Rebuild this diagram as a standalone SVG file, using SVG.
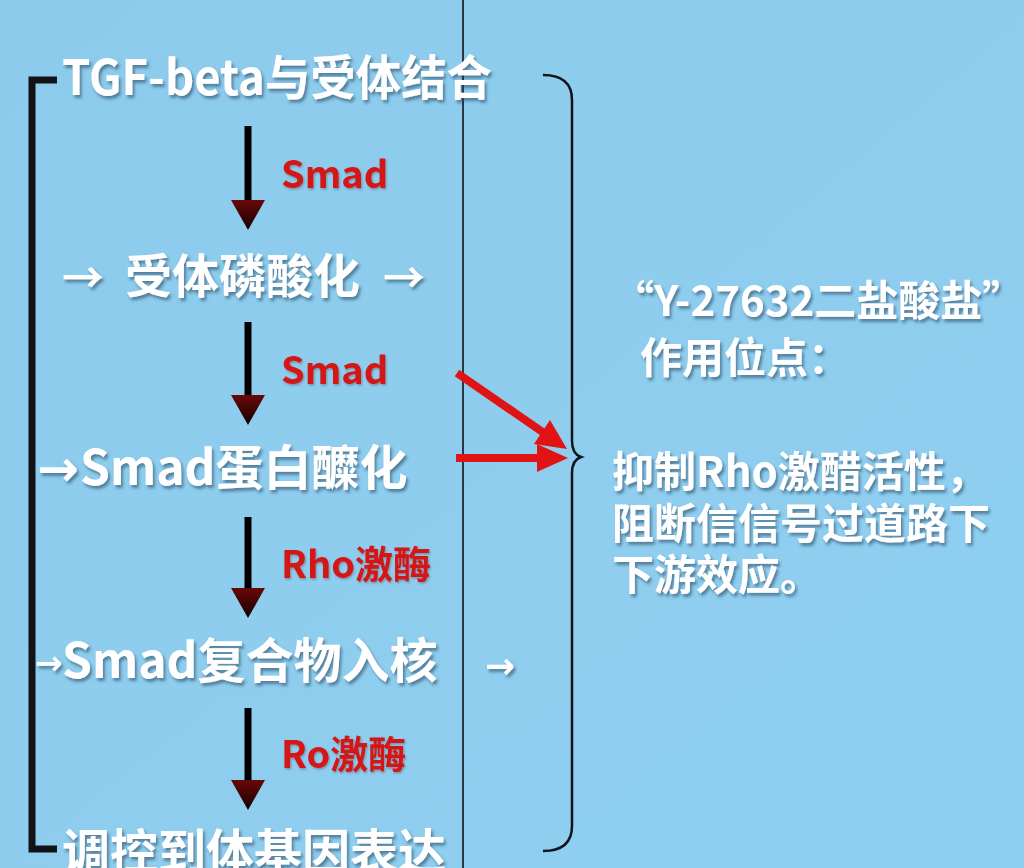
<svg xmlns="http://www.w3.org/2000/svg" width="1024" height="868" viewBox="0 0 1024 868">
<defs>
<linearGradient id="bg" x1="0" y1="0" x2="1" y2="1">
<stop offset="0" stop-color="#8ccbec"/>
<stop offset="0.5" stop-color="#8fcdee"/>
<stop offset="1" stop-color="#8ecff1"/>
</linearGradient>
<linearGradient id="head" x1="0" y1="0" x2="0" y2="1">
<stop offset="0" stop-color="#6a0808"/>
<stop offset="1" stop-color="#140000"/>
</linearGradient>
<filter id="sh" x="-5%" y="-20%" width="110%" height="150%">
<feDropShadow dx="2" dy="3" stdDeviation="1.5" flood-color="#23405a" flood-opacity="0.55"/>
</filter>
<filter id="shr" x="-5%" y="-20%" width="110%" height="150%">
<feDropShadow dx="1" dy="1.5" stdDeviation="1" flood-color="#400000" flood-opacity="0.3"/>
</filter>
</defs>
<style>
.w{fill:#ffffff;font-family:"Noto Sans CJK SC","Noto Sans",sans-serif;font-weight:700;filter:url(#sh)}
.a{font-family:"DejaVu Sans",sans-serif;font-weight:700}
.r{fill:#d41616;font-family:"Noto Sans CJK SC","Noto Sans",sans-serif;font-weight:600;font-size:38px;filter:url(#shr)}
.dk{fill:none;stroke:#101418}
.ar{fill:#e01414}
</style>
<rect width="1024" height="868" fill="url(#bg)"/>

<g id="frame">
<line x1="463" y1="0" x2="463" y2="868" class="dk" stroke-width="1.6"/>
<path d="M57,80 H32 V849 H57" class="dk" stroke-width="7"/>
<path d="M543,75 Q572,75 572,100 V441 Q572,454 581,457 Q572,460 572,473 V826 Q572,851 543,851" class="dk" stroke-width="2.5"/>
</g>

<g id="connectors">
<g id="down1"><rect x="244.5" y="126" width="7" height="78"/><polygon points="231,200 265,200 248,230" fill="url(#head)"/></g>
<g id="down2"><rect x="244.5" y="322" width="7" height="77"/><polygon points="231,395 265,395 248,425" fill="url(#head)"/></g>
<g id="down3"><rect x="244.5" y="517" width="7" height="75"/><polygon points="231,588 265,588 248,618" fill="url(#head)"/></g>
<g id="down4"><rect x="244.5" y="708" width="7" height="76"/><polygon points="231,780 265,780 248,810" fill="url(#head)"/></g>
<g id="red-diag"><line x1="457" y1="373" x2="544" y2="433" stroke="#e01414" stroke-width="8"/><polygon class="ar" points="567,449 534,444 550,420"/></g>
<g id="red-horiz"><line x1="456" y1="458" x2="540" y2="458" stroke="#e01414" stroke-width="8"/><polygon class="ar" points="568,458 537,444 537,472"/></g>
</g>

<g id="labels">
<text class="r" x="281" y="188">Smad</text>
<text class="r" x="281" y="384">Smad</text>
<text class="r" x="281" y="578">Rho激酶</text>
<text class="r" x="281" y="768">Ro激酶</text>
</g>

<g id="n1"><text class="w" x="62" y="95" font-size="48" textLength="430" lengthAdjust="spacingAndGlyphs">TGF-beta与受体结合</text></g>
<g id="n2">
<text class="w" x="62" y="293" font-size="42">→</text>
<text class="w" x="125" y="293" font-size="47">受体磷酸化</text>
<text class="w" x="383" y="293" font-size="42">→</text>
</g>
<g id="n3">
<text class="w a" x="37" y="486" font-size="50">→</text>
<text class="w" x="80" y="485" font-size="48">Smad蛋白醾化</text>
</g>
<g id="n4">
<text class="w a" x="35" y="674" font-size="33">→</text>
<text class="w" x="62" y="678" font-size="48">Smad复合物入核</text>
<text class="w a" x="485" y="678" font-size="36">→</text>
</g>
<g id="n5"><text class="w" x="62" y="869" font-size="48">调控到体基因表达</text></g>

<g id="note">
<text class="w" x="612" y="316" font-size="42">“Y-27632二盐酸盐”</text>
<text class="w" x="640" y="373" font-size="42">作用位点：</text>
<text class="w" x="612" y="487" font-size="42">抑制Rho激醋活性，</text>
<text class="w" x="612" y="539" font-size="42">阻断信信号过道路下</text>
<text class="w" x="612" y="590" font-size="42">下游效应。</text>
</g>
</svg>
